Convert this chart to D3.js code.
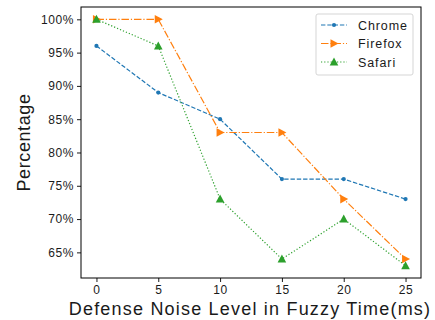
<!DOCTYPE html>
<html>
<head>
<meta charset="utf-8">
<script src="https://cdn.jsdelivr.net/npm/d3@7"></script>
<style>
  body { margin: 0; background: #fff; }
  text { font-family: "Liberation Sans", Arial, sans-serif; fill: #1a1a1a; }
</style>
</head>
<body>
<svg id="chart" width="435" height="320"></svg>
<script>
// data
const noiseLevels = [0, 5, 10, 15, 20, 25];
const chrome = [96, 89, 85, 76, 76, 73];
const firefox = [100, 100, 83, 83, 73, 64];
const safari = [100, 96, 73, 64, 70, 63];
const yTicks = [65, 70, 75, 80, 85, 90, 95, 100];
const xTicks = [0, 5, 10, 15, 20, 25];

const series = [
  { name: "Chrome", values: chrome, color: "#1f77b4", dash: "4.4,1.9", marker: "circle" },
  { name: "Firefox", values: firefox, color: "#ff7f0e", dash: "7.5,1.9,1.2,1.9", marker: "right" },
  { name: "Safari", values: safari, color: "#2ca02c", dash: "1.2,2", marker: "up" },
];

const svg = d3.select("#chart");

// plot frame
const plotLeft = 81, plotRight = 421, plotTop = 7, plotBottom = 278;

let x = d3.scaleLinear().domain([-1.25, 26.25]).range([plotLeft, plotRight]);
let y = d3.scaleLinear().domain([61.15, 101.85]).range([plotBottom, plotTop]);

// axes
let yAxis = svg.append("g")
  .attr("transform", `translate(${plotLeft},0)`)
  .call(d3.axisLeft(y).tickValues(yTicks).tickSize(4).tickPadding(3).tickFormat(d => d + "%"));

let xAxis = svg.append("g")
  .attr("transform", `translate(0,${plotBottom})`)
  .call(d3.axisBottom(x).tickValues(xTicks).tickSize(4).tickPadding(3));

[yAxis, xAxis].forEach(function (ax) {
  ax.select(".domain").remove();
  ax.selectAll("line").attr("stroke", "#000").attr("stroke-width", 0.9);
  ax.selectAll("text")
    .style("font-size", "12px")
    .style("letter-spacing", "0.6px")
    .attr("fill", "#1a1a1a");
});

// border
svg.append("rect")
  .attr("x", plotLeft).attr("y", plotTop)
  .attr("width", plotRight - plotLeft).attr("height", plotBottom - plotTop)
  .attr("fill", "none").attr("stroke", "#000").attr("stroke-width", 1);

// axis labels
svg.append("text")
  .attr("transform", `translate(30,${(plotTop + plotBottom) / 2}) rotate(-90)`)
  .attr("text-anchor", "middle")
  .style("font-size", "18px")
  .style("letter-spacing", "0.6px")
  .text("Percentage");

svg.append("text")
  .attr("x", 250).attr("y", 315)
  .attr("text-anchor", "middle")
  .style("font-size", "18px")
  .style("letter-spacing", "1.2px")
  .text("Defense Noise Level in Fuzzy Time(ms)");

// marker drawing
function drawMarker(g, type, cx, cy, color) {
  if (type === "circle") {
    g.append("circle").attr("cx", cx).attr("cy", cy).attr("r", 2.1).attr("fill", color);
  } else if (type === "right") {
    g.append("path")
      .attr("d", `M ${cx + 4.5} ${cy} L ${cx - 3.5} ${cy - 4.3} L ${cx - 3.5} ${cy + 4.3} Z`)
      .attr("fill", color);
  } else {
    g.append("path")
      .attr("d", `M ${cx} ${cy - 4.5} L ${cx + 4.3} ${cy + 3.5} L ${cx - 4.3} ${cy + 3.5} Z`)
      .attr("fill", color);
  }
}

let line = d3.line().x((d, i) => x(noiseLevels[i])).y(d => y(d));

series.forEach(function (s) {
  let g = svg.append("g");
  g.append("path")
    .attr("d", line(s.values))
    .attr("fill", "none")
    .attr("stroke", s.color)
    .attr("stroke-width", 1.2)
    .attr("stroke-dasharray", s.dash);
  s.values.forEach(function (v, i) {
    drawMarker(g, s.marker, x(noiseLevels[i]), y(v), s.color);
  });
});

// legend
let legend = svg.append("g");
legend.append("rect")
  .attr("x", 316).attr("y", 14)
  .attr("width", 97).attr("height", 61)
  .attr("rx", 2)
  .attr("fill", "#fff").attr("fill-opacity", 0.8)
  .attr("stroke", "#d0d0d0").attr("stroke-width", 0.9);

series.forEach(function (s, i) {
  let ly = 25 + i * 18.5;
  legend.append("line")
    .attr("x1", 321).attr("x2", 347)
    .attr("y1", ly).attr("y2", ly)
    .attr("stroke", s.color).attr("stroke-width", 1.2)
    .attr("stroke-dasharray", s.dash);
  drawMarker(legend, s.marker, 334, ly, s.color);
  legend.append("text")
    .attr("x", 358).attr("y", ly + 4.5)
    .style("font-size", "12.5px")
    .style("letter-spacing", "0.9px")
    .text(s.name);
});
</script>
</body>
</html>
